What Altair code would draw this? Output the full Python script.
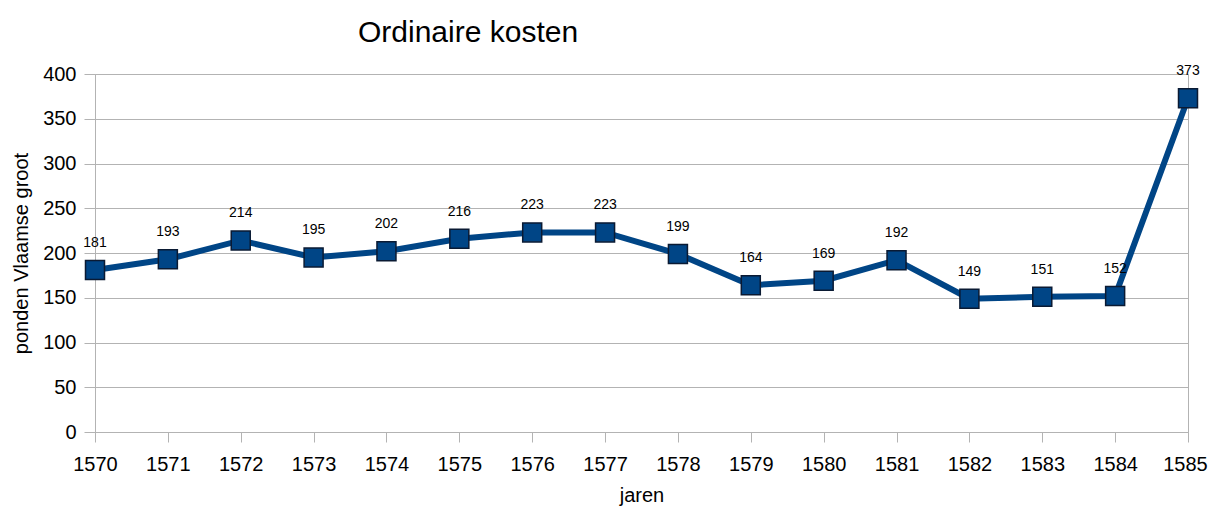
import altair as alt
import pandas as pd

years = list(range(1570, 1586))
values = [181, 193, 214, 195, 202, 216, 223, 223, 199, 164, 169, 192, 149, 151, 152, 373]
y_ticks = [0, 50, 100, 150, 200, 250, 300, 350, 400]

df = pd.DataFrame({"jaar": years, "kosten": values})

FONT = "Liberation Sans"
GRID = "#b3b3b3"
BLUE = "#004586"

base = alt.Chart(df).encode(
    x=alt.X("jaar:Q",
            scale=alt.Scale(domain=[1570, 1585], nice=False, zero=False),
            axis=alt.Axis(values=years, format="d", title="jaren", grid=False,
                          tickSize=10, tickColor=GRID, domainColor=GRID,
                          labelPadding=12, titlePadding=11,
                          labelFontSize=20, titleFontSize=20,
                          labelFont=FONT, titleFont=FONT,
                          labelColor="black", titleColor="black",
                          labelOffset={"condition": {"test": "datum.value == 1585", "value": -3},
                                       "value": 0},
                          titleFontWeight="normal", labelFlush=False)),
    y=alt.Y("kosten:Q",
            scale=alt.Scale(domain=[0, 400], nice=False),
            axis=alt.Axis(values=y_ticks, title="ponden Vlaamse groot",
                          grid=True, gridColor=GRID, tickSize=11, tickColor=GRID,
                          domainColor=GRID, labelPadding=8, titlePadding=11,
                          labelFontSize=20, titleFontSize=20,
                          labelFont=FONT, titleFont=FONT,
                          labelColor="black", titleColor="black",
                          titleFontWeight="normal")),
)

line = base.mark_line(color=BLUE, strokeWidth=6)
points = base.mark_point(shape="square", size=361, filled=True, color=BLUE,
                         stroke="#0a1a33", strokeWidth=1.5, opacity=1)
labels = base.mark_text(dy=-27, fontSize=14, font=FONT, color="black").encode(
    text=alt.Text("kosten:Q"))

chart = (line + points + labels).properties(
    width=1093, height=358,
    title=alt.TitleParams("Ordinaire kosten", anchor="start", frame="group", dx=263,
                          fontSize=30, font=FONT, fontWeight="normal",
                          color="black", offset=16),
    autosize=alt.AutoSizeParams(type="none"),
    padding={"left": 87, "top": 66, "right": 20, "bottom": 76},
).configure_view(stroke=GRID, strokeWidth=1)

chart.save("out.html", embed_options={"renderer": "svg", "actions": False})
